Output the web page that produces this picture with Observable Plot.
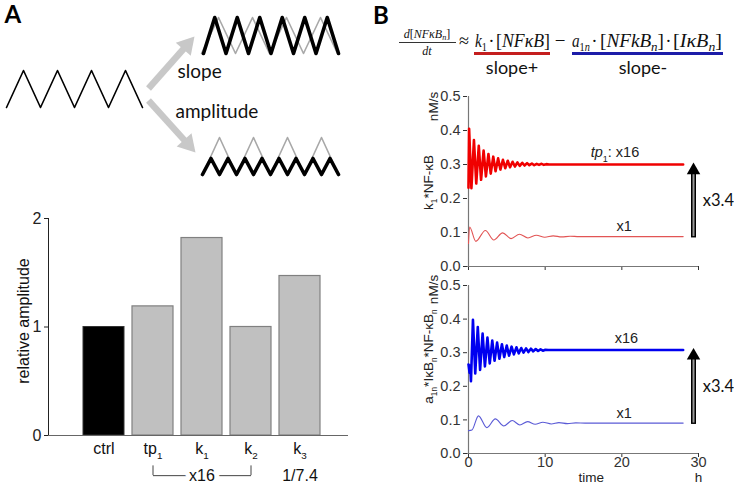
<!DOCTYPE html>
<html>
<head>
<meta charset="utf-8">
<script src="https://cdn.jsdelivr.net/npm/d3@7"></script>
<script src="https://cdn.jsdelivr.net/npm/@observablehq/plot@0.6"></script>
<style>
  body { margin: 0; background: #fff; }
  #fig { position: relative; width: 734px; height: 485px; overflow: hidden; background: #fff;
         font-family: "Liberation Sans", Arial, sans-serif; }
  #fig > svg, #fig .abs { position: absolute; white-space: nowrap; }
  .eq sub { font-size: 68%; vertical-align: -0.28em; line-height: 0; }
</style>
</head>
<body>
<div id="fig"></div>
<script>
// ---------------- DATA ----------------
// Panel A: relative amplitude bar chart
const barCategories = ["ctrl", "tp1", "k1", "k2", "k3"];
const barLabels = ["ctrl", "tp_{1}", "k_{1}", "k_{2}", "k_{3}"];
const barValues = [1.0, 1.19, 1.82, 1.0, 1.47];
const barTicks = [0, 1, 2];
const bracketLabel = "x16";
const k3Label = "1/7.4";

// Panel B: time (h) vs rate (nM/s)
const timeTicks = [0, 10, 20, 30];
const rateTicks = [0, 0.1, 0.2, 0.3, 0.4, 0.5];
// k1*NF-kB, tp1 x16
const synthHigh = [[0,0.232],[0.08,0.405],[0.38,0.230],[0.71,0.372],[1.01,0.244],[1.34,0.355],[1.64,0.255],[1.97,0.341],[2.27,0.265],[2.60,0.331],[2.90,0.273],[3.23,0.323],[3.53,0.280],[3.86,0.318],[4.16,0.285],[4.49,0.314],[4.79,0.289],[5.12,0.311],[5.42,0.292],[5.75,0.308],[6.05,0.294],[6.38,0.306],[6.68,0.296],[7.01,0.305],[7.31,0.297],[7.64,0.304],[7.94,0.298],[8.27,0.303],[8.57,0.298],[8.90,0.302],[9.20,0.299],[9.53,0.302],[9.83,0.299],[10.16,0.301],[10.5,0.300],[28,0.300]];
// k1*NF-kB, x1
const synthLow = [[0,0.068],[0.15,0.116],[0.95,0.074],[2.2,0.106],[3.3,0.078],[4.45,0.099],[5.55,0.082],[6.65,0.095],[7.75,0.084],[8.85,0.092],[9.95,0.086],[11.05,0.090],[12.15,0.087],[13.25,0.089],[14.4,0.088],[28,0.088]];
// a1n*IkBn*NF-kBn, x16
const degHigh = [[0,0.265],[0.14,0.240],[0.22,0.262],[0.32,0.215],[0.58,0.398],[0.88,0.238],[1.21,0.376],[1.51,0.249],[1.84,0.357],[2.14,0.259],[2.47,0.345],[2.77,0.268],[3.10,0.336],[3.40,0.276],[3.73,0.330],[4.03,0.282],[4.36,0.325],[4.66,0.287],[4.99,0.321],[5.29,0.291],[5.62,0.318],[5.92,0.295],[6.25,0.316],[6.55,0.298],[6.88,0.314],[7.18,0.300],[7.51,0.313],[7.81,0.302],[8.14,0.312],[8.44,0.304],[8.77,0.311],[9.07,0.305],[9.40,0.310],[9.70,0.306],[10.03,0.309],[10.4,0.308],[28,0.308]];
// a1n*IkBn*NF-kBn, x1
const degLow = [[0,0.068],[0.45,0.070],[1.3,0.112],[2.4,0.077],[3.5,0.103],[4.6,0.082],[5.7,0.098],[6.7,0.085],[7.7,0.095],[8.7,0.087],[9.7,0.093],[10.8,0.088],[11.8,0.092],[12.9,0.089],[14.0,0.091],[15.2,0.0905],[28,0.0905]];
const foldChange = "x3.4";

// ---------------- HELPERS ----------------
const SANS = "'Liberation Sans', Arial, sans-serif";
const CAL = "Lato, 'Open Sans', sans-serif";
const SERIF = "'Liberation Serif', 'DejaVu Serif', serif";
const fig = document.getElementById("fig");

function place(svg, left, top) {
  svg.style.left = left + "px";
  svg.style.top = top + "px";
  fig.appendChild(svg);
}

// Convert "_{..}" to subscripts and "~{..}" to italics inside SVG text
function richText(root) {
  root.querySelectorAll("text").forEach(t => {
    const s = t.textContent;
    if (!/[_~]\{/.test(s)) return;
    const fs = parseFloat(getComputedStyle(t).fontSize) || 14;
    while (t.firstChild) t.removeChild(t.firstChild);
    let shift = 0;
    for (const part of s.split(/(_\{[^}]*\}|~\{[^}]*\})/)) {
      if (!part) continue;
      const ts = document.createElementNS("http://www.w3.org/2000/svg", "tspan");
      if (part.startsWith("_{")) {
        ts.textContent = part.slice(2, -1);
        ts.setAttribute("font-size", (fs * 0.62).toFixed(1));
        const d = fs * 0.32;
        ts.setAttribute("dy", (d - shift).toFixed(1));
        shift = d;
      } else {
        if (part.startsWith("~{")) { ts.textContent = part.slice(2, -1); ts.setAttribute("font-style", "italic"); }
        else ts.textContent = part;
        if (shift) { ts.setAttribute("dy", (-shift).toFixed(1)); shift = 0; }
      }
      t.appendChild(ts);
    }
  });
}

function zigzag(x0, period, cycles, peak, trough) {
  const pts = [];
  for (let i = 0; i <= 2 * cycles; i++) pts.push({x: x0 + i * period / 2, y: i % 2 ? peak : trough});
  return pts;
}
function arrowHead(tip, dir, len, wid) {
  const n = Math.hypot(dir[0], dir[1]); const d = [dir[0] / n, dir[1] / n]; const p = [-d[1], d[0]];
  const b = [tip[0] - len * d[0], tip[1] - len * d[1]];
  return {head: [{x: tip[0], y: tip[1]}, {x: b[0] + p[0] * wid / 2, y: b[1] + p[1] * wid / 2}, {x: b[0] - p[0] * wid / 2, y: b[1] - p[1] * wid / 2}, {x: tip[0], y: tip[1]}],
          base: {x: b[0] + d[0] * 2, y: b[1] + d[1] * 2}};
}

// ---------------- PANEL A: schematic ----------------
const up = arrowHead([194, 36], [45, -51], 17, 20);
const dn = arrowHead([195, 152], [47, 52], 17, 20);
const schematic = Plot.plot({
  width: 370, height: 200, margin: 0,
  style: {background: "transparent", overflow: "visible"},
  x: {domain: [0, 370], range: [0, 370], axis: null},
  y: {domain: [0, 200], range: [0, 200], axis: null},
  marks: [
    Plot.line(zigzag(6, 34, 4, 70, 107), {x: "x", y: "y", stroke: "black", strokeWidth: 1.6}),
    Plot.line(zigzag(201, 34, 4, 17, 53), {x: "x", y: "y", stroke: "#a8a8a8", strokeWidth: 1.6}),
    Plot.line(zigzag(203, 22.5, 6, 17, 53), {x: "x", y: "y", stroke: "black", strokeWidth: 3.6}),
    Plot.line(zigzag(202, 34, 4, 137, 174), {x: "x", y: "y", stroke: "#a8a8a8", strokeWidth: 1.6}),
    Plot.line(zigzag(202, 17, 8, 158, 174), {x: "x", y: "y", stroke: "black", strokeWidth: 3.6}),
    Plot.link([{x1: 148, y1: 88, ...up.base}, {x1: 148, y1: 100, ...dn.base}],
      {x1: "x1", y1: "y1", x2: "x", y2: "y", stroke: "#c8c8c8", strokeWidth: 6.5}),
    Plot.line(up.head, {x: "x", y: "y", fill: "#c8c8c8", stroke: "none"}),
    Plot.line(dn.head, {x: "x", y: "y", fill: "#c8c8c8", stroke: "none"}),
    Plot.text([{x: 177, y: 71, t: "slope"}, {x: 175, y: 111, t: "amplitude"}],
      {x: "x", y: "y", text: "t", textAnchor: "start", fontSize: 19, fontFamily: CAL, fill: "#111"}),
    Plot.text([{x: 4, y: 15, t: "A"}], {x: "x", y: "y", text: "t", textAnchor: "start", fontSize: 24, fontWeight: "bold", fontFamily: CAL, fill: "#000"})
  ]
});
place(schematic, 0, 0);

// ---------------- PANEL A: bar chart ----------------
const barData = barCategories.map((c, i) => ({cat: c, label: barLabels[i], value: barValues[i]}));
const bars = Plot.plot({
  width: 370, height: 285, marginLeft: 48, marginRight: 22, marginTop: 18, marginBottom: 50,
  style: {fontFamily: SANS, fontSize: "16px", color: "#222", background: "transparent", overflow: "visible"},
  x: {domain: barCategories, range: [75, 328], padding: 0.163, axis: null},
  y: {domain: [0, 2], ticks: barTicks, tickFormat: d => String(d), tickSize: 4, tickPadding: 3, label: null, line: true},
  marks: [
    Plot.barY(barData.filter(d => d.cat === "ctrl"), {x: "cat", y: "value", fill: "black", stroke: "#333"}),
    Plot.barY(barData.filter(d => d.cat !== "ctrl"), {x: "cat", y: "value", fill: "#c0c0c0", stroke: "#808080", strokeWidth: 1.2}),
    Plot.ruleY([0], {stroke: "#666", strokeWidth: 1.2}),
    Plot.text(barData, {x: "cat", y: () => -0.12, text: "label", fill: "#111"}),
    Plot.ruleX(["tp1", "k2"], {x: d => d, y1: () => -0.28, y2: () => -0.37, stroke: "#444"}),
    Plot.link([{a: "tp1", b: "k2"}], {x1: "a", x2: "b", y1: () => -0.37, y2: () => -0.37, stroke: "#444"}),
    Plot.text([{c: "k1", t: bracketLabel}], {x: "c", y: () => -0.37, text: "t", fill: "#111", stroke: "white", strokeWidth: 10}),
    Plot.text([{c: "k3", t: k3Label}], {x: "c", y: () => -0.37, text: "t", fill: "#111"}),
    Plot.text(["relative amplitude"], {frameAnchor: "left", textAnchor: "middle", rotate: -90, dx: -25, dy: -6, fill: "#111"})
  ]
});
place(bars, 0, 200);

// ---------------- PANEL B: rate plots ----------------
function ratePlot(o) {
  const xy = {x: d => d[0], y: d => d[1]};
  const hiEnd = o.high[o.high.length - 1][1];
  const loEnd = o.low[o.low.length - 1][1];
  const ax = 29.35;
  return Plot.plot({
    width: 364, height: o.height, marginLeft: 97, marginRight: 36, marginTop: o.mt, marginBottom: o.mb,
    style: {fontFamily: SANS, fontSize: "14.5px", color: "#333", background: "transparent", overflow: "visible"},
    x: {domain: [0, 30], range: [98, 328], ticks: timeTicks, tickSize: 4, tickPadding: -1,
        tickFormat: o.xLabels ? (d => String(d)) : (() => ""), label: null},
    y: {domain: [0, 0.5], ticks: rateTicks, tickFormat: d3.format(".1f"), tickSize: 4, tickPadding: 3, label: null},
    marks: [
      Plot.ruleX([0], {stroke: "#777", strokeWidth: 1.2}),
      Plot.ruleY([0], {stroke: "#777", strokeWidth: 1.2}),
      Plot.line(o.low, {...xy, stroke: o.light, strokeWidth: 1.1, curve: "monotone-x"}),
      Plot.line(o.high, {...xy, stroke: o.color, strokeWidth: 2.6}),
      Plot.ruleX([ax], {x: d => d, y1: () => loEnd - 0.004, y2: () => hiEnd - 0.026, stroke: "black", strokeWidth: 5}),
      Plot.ruleX([ax], {x: d => d, y1: () => loEnd, y2: () => hiEnd - 0.026, stroke: "#9a9a9a", strokeWidth: 2}),
      Plot.dot([ax], {x: d => d, y: () => hiEnd - 0.017, symbol: "triangle", r: 5, fill: "black", stroke: "none"}),
      Plot.text([{x: o.hiLabelX, y: hiEnd + 0.035, t: o.hiLabel}, {x: 20.3, y: loEnd + 0.03, t: "x1"}],
        {x: "x", y: "y", text: "t", fontSize: 14.5, fill: "#222"}),
      Plot.text([{x: 30.55, y: (hiEnd + loEnd) / 2, t: foldChange}],
        {x: "x", y: "y", text: "t", textAnchor: "start", fontSize: 16.5, fontFamily: CAL, fill: "#111"}),
      Plot.text([o.yLabel], {frameAnchor: "left", textAnchor: "middle", rotate: -90, dx: -39, dy: o.labDy, fontSize: 13.5, fill: "#222"}),
      Plot.text(["nM/s"], {frameAnchor: "top-left", textAnchor: "middle", rotate: -90, dx: -39, dy: o.unitDy, fontSize: 13.5, fill: "#222"}),
      ...(o.xLabels ? [
        Plot.text([{x: 16, t: "time"}, {x: 30, t: "h"}], {x: "x", text: "t", frameAnchor: "bottom", dy: 28, fontSize: 13.5, fill: "#222"})
      ] : [])
    ]
  });
}

const topPlot = ratePlot({high: synthHigh, low: synthLow, color: "#f00000", light: "#e25555",
  height: 195, mt: 16, mb: 9, xLabels: false, hiLabel: "~{tp}_{1}: x16", hiLabelX: 19.1,
  yLabel: "k_{1}*NF-κB", labDy: 1, unitDy: 10});
place(topPlot, 370, 80);

const botPlot = ratePlot({high: degHigh, low: degLow, color: "#0000f0", light: "#5b5bd6",
  height: 210, mt: 10, mb: 32, xLabels: true, hiLabel: "x16", hiLabelX: 20.6,
  yLabel: "a_{1n}*IκB_{n}*NF-κB_{n}", labDy: -13, unitDy: 4});
place(botPlot, 370, 275);

[schematic, bars, topPlot, botPlot].forEach(richText);

// ---------------- PANEL B: equation (HTML text) ----------------
function addAbs(html, style, cls) {
  const el = document.createElement("div");
  el.className = "abs" + (cls ? " " + cls : "");
  el.innerHTML = html;
  Object.assign(el.style, {left: "0px", top: "0px"}, style);
  fig.appendChild(el);
  return el;
}
function center(el, cx, cy) {
  const r = el.getBoundingClientRect();
  el.style.left = (cx - r.width / 2) + "px";
  el.style.top = (cy - r.height / 2) + "px";
}

addAbs("B", {left: "373px", top: "2px", font: `bold 24px/1.1 ${CAL}`, color: "#000"});

const num = addAbs("<i>d</i>[<i>NFκB<sub>n</sub></i>]", {font: `12px/1 ${SERIF}`, color: "#111"}, "eq");
center(num, 427, 34);
const den = addAbs("<i>dt</i>", {font: `12px/1 ${SERIF}`, color: "#111"}, "eq");
center(den, 427, 51);
addAbs("", {left: "399px", top: "42px", width: "57px", height: "1px", background: "#333"});

// formula pieces placed at their positions in the reference (left, right)
const eqPieces = [
  {h: "≈", l: 459, r: 469},
  {h: "<i>k</i><sub>1</sub>", l: 475, r: 486},
  {h: "·", c: 491.5},
  {h: "[<i>NFκB</i>]", l: 496, r: 550},
  {h: "−", c: 560},
  {h: "<i>a</i><sub>1<i>n</i></sub>", l: 572, r: 589},
  {h: "·", c: 594.5},
  {h: "[<i>NFkB<sub>n</sub></i>]", l: 600, r: 664},
  {h: "·", c: 668.5},
  {h: "[<i>IκB<sub>n</sub></i>]", l: 673, r: 722}
];
for (const p of eqPieces) {
  const el = addAbs(p.h, {font: `19px/19px ${SERIF}`, color: "#111", top: "31px"}, "eq");
  const w = el.getBoundingClientRect().width;
  if (p.c !== undefined) {
    el.style.left = (p.c - w / 2) + "px";
  } else {
    const s = Math.max(0.8, Math.min(1.25, (p.r - p.l) / w));
    el.style.left = p.l + "px";
    el.style.transformOrigin = "0 50%";
    el.style.transform = `scaleX(${s.toFixed(3)})`;
  }
}
addAbs("", {left: "474px", top: "52px", width: "76px", height: "2.5px", background: "#c41e1e"});
addAbs("", {left: "572px", top: "52px", width: "151px", height: "2.5px", background: "#1c1ca8"});
const sp = addAbs("slope+", {font: `18px/1.1 ${CAL}`, color: "#111"});
center(sp, 512, 68);
const sm = addAbs("slope-", {font: `18px/1.1 ${CAL}`, color: "#111"});
center(sm, 643, 68);
</script>
</body>
</html>
